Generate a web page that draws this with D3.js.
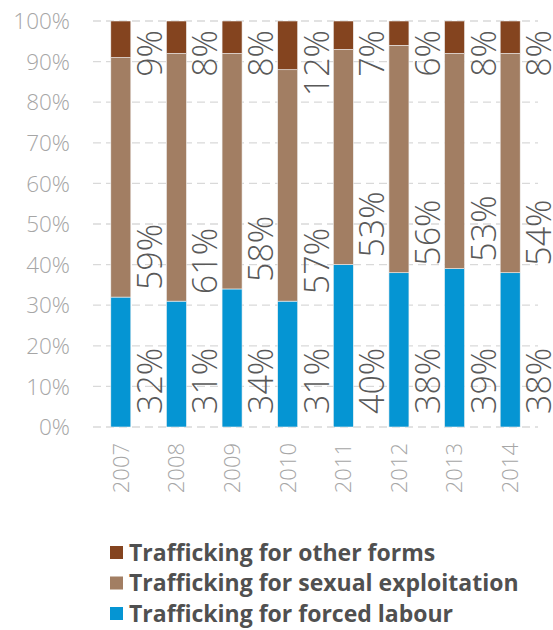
<!DOCTYPE html>
<html>
<head>
<meta charset="utf-8">
<script src="https://cdn.jsdelivr.net/npm/d3@7"></script>
<style>
  html, body { margin: 0; padding: 0; background: #fff; }
  svg { display: block; }
</style>
</head>
<body>
<svg id="chart" width="553" height="630"></svg>
<script>
const years = ["2007", "2008", "2009", "2010", "2011", "2012", "2013", "2014"];
const forcedLabour = [32, 31, 34, 31, 40, 38, 39, 38];
const sexualExploitation = [59, 61, 58, 57, 53, 56, 53, 54];
const otherForms = [9, 8, 8, 12, 7, 6, 8, 8];
const yTicks = [0, 10, 20, 30, 40, 50, 60, 70, 80, 90, 100];
const seriesNames = ["Trafficking for forced labour", "Trafficking for sexual exploitation", "Trafficking for other forms"];
const seriesColors = ["#0595d3", "#a27e63", "#84441f"];

const svg = d3.select("#chart");
const font = "'Open Sans', 'Noto Sans', sans-serif";

const x = d3.scaleBand().domain(years).range([93, 538]).paddingInner(0).paddingOuter(0);
const y = d3.scaleLinear().domain([0, 100]).range([427, 21]);

const barW = 20;

// gridlines
svg.append("g").selectAll("line").data(yTicks).join("line")
  .attr("x1", 93).attr("x2", 538)
  .attr("y1", d => y(d)).attr("y2", d => y(d))
  .attr("stroke", "#d9d9d9").attr("stroke-width", 1.3)
  .attr("stroke-dasharray", "8,5");

// y tick labels
svg.append("g").selectAll("text").data(yTicks).join("text")
  .attr("x", 70).attr("y", d => y(d))
  .attr("dy", "0.36em")
  .attr("text-anchor", "end")
  .attr("font-family", font).attr("font-weight", 300)
  .attr("font-size", 22.5).attr("fill", "#a6a6a6")
  .text(d => d + "%");

// stack
const table = years.map((yr, i) => ({ year: yr, s0: forcedLabour[i], s1: sexualExploitation[i], s2: otherForms[i] }));
const stack = d3.stack().keys(["s0", "s1", "s2"])(table);

const gBars = svg.append("g");
stack.forEach((layer, li) => {
  gBars.selectAll(null).data(layer).join("rect")
    .attr("x", d => x(d.data.year) + x.bandwidth() / 2 - barW / 2)
    .attr("width", barW)
    .attr("y", d => y(d[1]))
    .attr("height", d => y(d[0]) - y(d[1]))
    .attr("fill", seriesColors[li])
    .attr("stroke", "#f2f2f2").attr("stroke-width", 0.6);
});

// value labels
const gLab = svg.append("g");
stack.forEach((layer, li) => {
  gLab.selectAll(null).data(layer).join("text")
    .attr("transform", d => {
      const cx = x(d.data.year) + x.bandwidth() / 2 + 41;
      let yy;
      if (li === 0) yy = y(d[0]) - 13;
      else if (li === 1) yy = y(d[0]) - 7;
      else yy = y(100) + 9;
      return `translate(${cx},${yy}) rotate(-90)`;
    })
    .attr("text-anchor", li === 2 ? "end" : "start")
    .attr("font-family", font).attr("font-weight", 300)
    .attr("font-size", 34).attr("fill", "#595959")
    .text(d => (d[1] - d[0]) + "%");
});

// x labels
svg.append("g").selectAll("text").data(years).join("text")
  .attr("transform", d => `translate(${x(d) + x.bandwidth() / 2},443) rotate(-90)`)
  .attr("text-anchor", "end")
  .attr("dy", "0.36em")
  .attr("font-family", font).attr("font-weight", 300)
  .attr("font-size", 22).attr("fill", "#a6a6a6")
  .text(d => d);

// legend
const legendOrder = [2, 1, 0];
const gLeg = svg.append("g");
legendOrder.forEach((si, row) => {
  const yy = 552.5 + row * 30.5;
  gLeg.append("rect").attr("x", 110).attr("y", yy - 6.5).attr("width", 13).attr("height", 13)
    .attr("fill", seriesColors[si]);
  gLeg.append("text").attr("x", 129).attr("y", yy).attr("dy", "0.36em")
    .attr("font-family", font).attr("font-weight", 700)
    .attr("font-size", 23).attr("fill", "#505050")
    .text(seriesNames[si]);
});
</script>
</body>
</html>
